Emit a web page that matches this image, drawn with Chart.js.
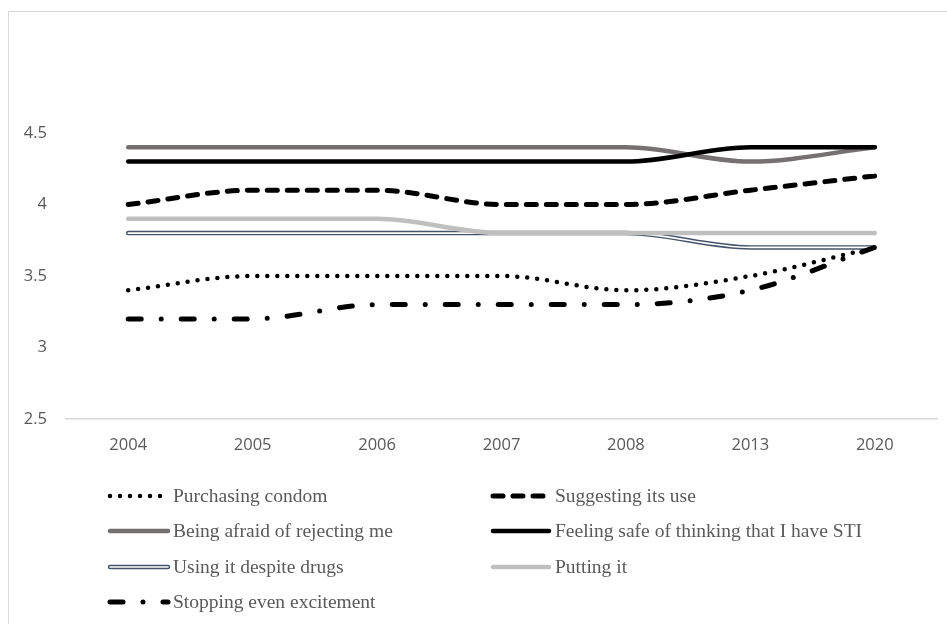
<!DOCTYPE html>
<html lang="en">
<head>
  <meta charset="UTF-8">
  <title>Condom use self-efficacy 2004–2020</title>
  <script src="https://cdn.jsdelivr.net/npm/chart.js"></script>
  <style>
    body {
      margin: 0;
      overflow: hidden;
      background: #fff;
    }
    #frame {
      position: absolute;
      left: 8px;
      top: 11px;
      width: 1000px;
      height: 700px;
      border: 1px solid #d9d9d9;
    }
    canvas {
      position: absolute;
      left: 0;
      top: 0;
    }
  </style>
</head>
<body>
  <div id="frame"></div>
  <canvas id="chart" width="947" height="624"></canvas>

  <script>
    const years = ['2004', '2005', '2006', '2007', '2008', '2013', '2020'];
    const yTicks = [2.5, 3, 3.5, 4, 4.5];

    const purchasing = [3.4, 3.5, 3.5, 3.5, 3.4, 3.5, 3.7];
    const suggesting = [4.0, 4.1, 4.1, 4.0, 4.0, 4.1, 4.2];
    const afraid = [4.4, 4.4, 4.4, 4.4, 4.4, 4.3, 4.4];
    const feelingSafe = [4.3, 4.3, 4.3, 4.3, 4.3, 4.4, 4.4];
    const despiteDrugs = [3.8, 3.8, 3.8, 3.8, 3.8, 3.7, 3.7];
    const puttingIt = [3.9, 3.9, 3.9, 3.8, 3.8, 3.8, 3.8];
    const stopping = [3.2, 3.2, 3.3, 3.3, 3.3, 3.4, 3.7];

    const textGrey = '#595959';
    const dotted = [0, 10];
    const dashed = [10, 10];
    const dashDot = [13, 20, 0, 20];

    // series styles, also used for the legend
    const series = [
      { label: 'Purchasing condom', data: purchasing, color: '#000', width: 4.5, dash: dotted, col: 0, row: 0 },
      { label: 'Suggesting its use', data: suggesting, color: '#000', width: 5, dash: dashed, col: 1, row: 0 },
      { label: 'Being afraid of rejecting me', data: afraid, color: '#767171', width: 4.5, dash: [], col: 0, row: 1 },
      { label: 'Feeling safe of thinking that I have STI', data: feelingSafe, color: '#000', width: 4.5, dash: [], col: 1, row: 1 },
      { label: 'Using it despite drugs', data: despiteDrugs, color: '#44546A', width: 4.5, dash: [], col: 0, row: 2, double: true },
      { label: 'Putting it', data: puttingIt, color: '#BFBFBF', width: 4.5, dash: [], col: 1, row: 2 },
      { label: 'Stopping even excitement', data: stopping, color: '#000', width: 5, dash: dashDot, col: 0, row: 3 }
    ];

    const datasets = [];
    series.forEach((s, i) => {
      // later series are painted on top
      const order = series.length - i;
      datasets.push({
        label: s.label,
        data: s.data,
        borderColor: s.color,
        borderWidth: s.width,
        borderDash: s.dash,
        borderCapStyle: 'round',
        borderJoinStyle: 'round',
        pointRadius: 0,
        cubicInterpolationMode: 'monotone',
        fill: false,
        order: order
      });
      if (s.double) {
        // white core for the double line
        datasets.push({
          label: s.label + ' (inner)',
          data: s.data,
          borderColor: '#fff',
          borderWidth: 1.6,
          borderCapStyle: 'round',
          borderJoinStyle: 'round',
          pointRadius: 0,
          cubicInterpolationMode: 'monotone',
          fill: false,
          order: order - 0.5
        });
      }
    });

    // two-column legend under the plot
    const legendCols = [
      { lineFrom: 110, lineTo: 168, textX: 173 },
      { lineFrom: 493, lineTo: 549, textX: 555 }
    ];
    const legendRows = [496, 531, 567, 602];

    const legendPlugin = {
      id: 'twoColLegend',
      afterDraw(chart) {
        const ctx = chart.ctx;
        ctx.save();
        ctx.font = '19.5px "Liberation Serif", "Times New Roman", serif';
        ctx.textBaseline = 'middle';
        ctx.textAlign = 'left';
        series.forEach(s => {
          const c = legendCols[s.col];
          const y = legendRows[s.row];
          ctx.lineCap = 'round';
          ctx.setLineDash(s.dash);
          ctx.strokeStyle = s.color;
          ctx.lineWidth = s.width;
          ctx.beginPath();
          ctx.moveTo(c.lineFrom, y);
          ctx.lineTo(c.lineTo, y);
          ctx.stroke();
          if (s.double) {
            ctx.strokeStyle = '#fff';
            ctx.lineWidth = 1.6;
            ctx.beginPath();
            ctx.moveTo(c.lineFrom, y);
            ctx.lineTo(c.lineTo, y);
            ctx.stroke();
          }
          ctx.setLineDash([]);
          ctx.fillStyle = textGrey;
          ctx.fillText(s.label, c.textX, y + 1);
        });
        ctx.restore();
      }
    };

    new Chart(document.getElementById('chart'), {
      type: 'line',
      data: { labels: years, datasets: datasets },
      options: {
        responsive: false,
        animation: false,
        layout: { padding: { top: 133, right: 10, left: 0, bottom: 0 } },
        scales: {
          x: {
            offset: true,
            grid: { display: false, drawTicks: false, offset: true },
            border: { display: true, color: '#D9D9D9', width: 1.5 },
            ticks: {
              color: textGrey,
              padding: 16,
              font: { family: '"Open Sans", sans-serif', size: 16.5 }
            },
            afterFit(scale) { scale.height = 205; }
          },
          y: {
            min: 2.5,
            max: 4.5,
            grid: { display: false, drawTicks: false },
            border: { display: false },
            afterBuildTicks(scale) {
              scale.ticks = yTicks.map(v => ({ value: v }));
            },
            ticks: {
              color: textGrey,
              padding: 19,
              font: { family: '"Open Sans", sans-serif', size: 16.5 },
              callback: value => String(value)
            },
            afterFit(scale) { scale.width = 66; }
          }
        },
        plugins: {
          legend: { display: false },
          tooltip: { enabled: false }
        }
      },
      plugins: [legendPlugin]
    });
  </script>
</body>
</html>
